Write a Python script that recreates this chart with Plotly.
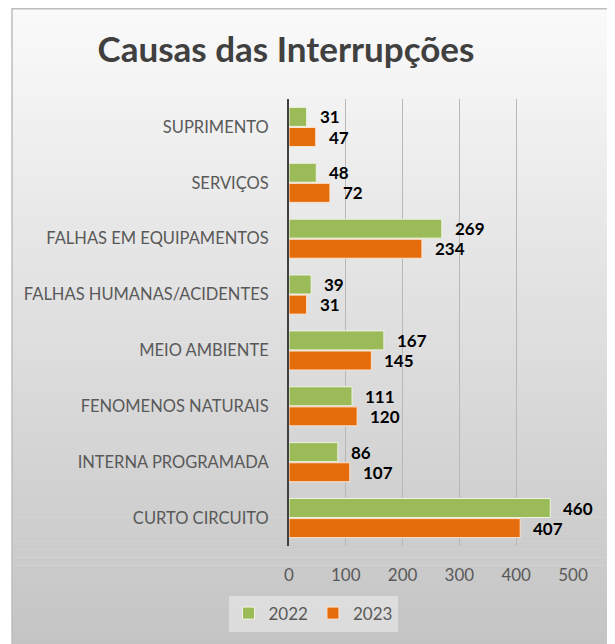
import plotly.graph_objects as go

categories = ["SUPRIMENTO", "SERVIÇOS", "FALHAS EM EQUIPAMENTOS", "FALHAS HUMANAS/ACIDENTES",
              "MEIO AMBIENTE", "FENOMENOS NATURAIS", "INTERNA PROGRAMADA", "CURTO CIRCUITO"]
values_2022 = [31, 48, 269, 39, 167, 111, 86, 460]
values_2023 = [47, 72, 234, 31, 145, 120, 107, 407]
x_ticks = [0, 100, 200, 300, 400, 500]

# the page body has an 8px margin; lay out in page pixels and shift
OFF = 8
W, H = 615 - OFF, 644 - OFF
L, R, T, B = 289 - OFF, 573 - OFF, 99 - OFF, 550 - OFF
n = len(categories)
pos = [n - 1 - i for i in range(n)]  # top to bottom
off = 0.18

GREEN = "#9BBB59"
ORANGE = "#E46C0A"

fig = go.Figure()
fig.add_trace(go.Bar(y=[p + off for p in pos], x=values_2022, orientation="h", width=0.34,
                     name="2022", marker=dict(color=GREEN, line=dict(color="#eef3e2", width=1))))
fig.add_trace(go.Bar(y=[p - off for p in pos], x=values_2023, orientation="h", width=0.34,
                     name="2023", marker=dict(color=ORANGE, line=dict(color="#fbe3d0", width=1))))

lab_font = dict(family="Lato", size=17, color="#000000", weight="bold")
ann = []
for p, v in zip(pos, values_2022):
    ann.append(dict(x=v, y=p + off, text=str(v), xanchor="left", yanchor="middle", xshift=11,
                    showarrow=False, font=lab_font))
for p, v in zip(pos, values_2023):
    ann.append(dict(x=v, y=p - off, text=str(v), xanchor="left", yanchor="middle", xshift=11,
                    showarrow=False, font=lab_font))


def px2x(px):
    return (px - OFF - L) / (R - L)


def py2y(py):
    return (B - (py - OFF)) / (B - T)


shapes = []
top, bot = 8, 650
nb = 80
c0, c1 = (250, 250, 250), (196, 196, 196)
for k in range(nb):
    y0p = top + (bot - top) * k / nb
    y1p = top + (bot - top) * (k + 1) / nb
    t = (k + 0.5) / nb
    c = tuple(int(round(c0[j] + (c1[j] - c0[j]) * t)) for j in range(3))
    shapes.append(dict(type="rect", xref="paper", yref="paper", x0=px2x(12), x1=px2x(611),
                       y0=py2y(y1p), y1=py2y(y0p) + 0.001, fillcolor="rgb(%d,%d,%d)" % c,
                       line=dict(width=0), layer="below"))
shapes.append(dict(type="rect", xref="paper", yref="paper", x0=px2x(12), x1=px2x(611),
                   y0=py2y(660), y1=py2y(8), line=dict(color="#bdbdbd", width=1.5),
                   fillcolor="rgba(0,0,0,0)", layer="below"))

fig.update_layout(
    width=W, height=H,
    margin=dict(l=L, r=W - R, t=T, b=H - B),
    paper_bgcolor="white", plot_bgcolor="rgba(0,0,0,0)",
    barmode="overlay",
    title=dict(text="Causas das Interrupções", x=(286 - OFF) / W, xanchor="center",
               y=1 - (50 - OFF) / H, yanchor="middle",
               font=dict(family="Lato", size=35, color="#404040", weight="bold")),
    xaxis=dict(range=[0, 500], tickvals=x_ticks, showgrid=True, gridcolor="#b8b8b8", gridwidth=1,
               zeroline=False, showline=False, ticks="", ticklabelstandoff=17,
               tickfont=dict(family="Lato", size=17, color="#595959")),
    yaxis=dict(range=[-0.5, n - 0.5], tickvals=pos, ticktext=categories, showgrid=False,
               zeroline=False, showline=True, linecolor="#404040", linewidth=2, ticks="",
               ticklabelstandoff=15, tickfont=dict(family="Lato", size=16.5, color="#595959")),
    legend=dict(orientation="h", x=px2x(313), xanchor="center", y=py2y(600), yanchor="top",
                bgcolor="rgba(235,235,235,0.6)", font=dict(family="Lato", size=17, color="#595959"),
                itemwidth=30, traceorder="normal"),
    annotations=ann, shapes=shapes, showlegend=True,
)

fig.write_html("out.html")
